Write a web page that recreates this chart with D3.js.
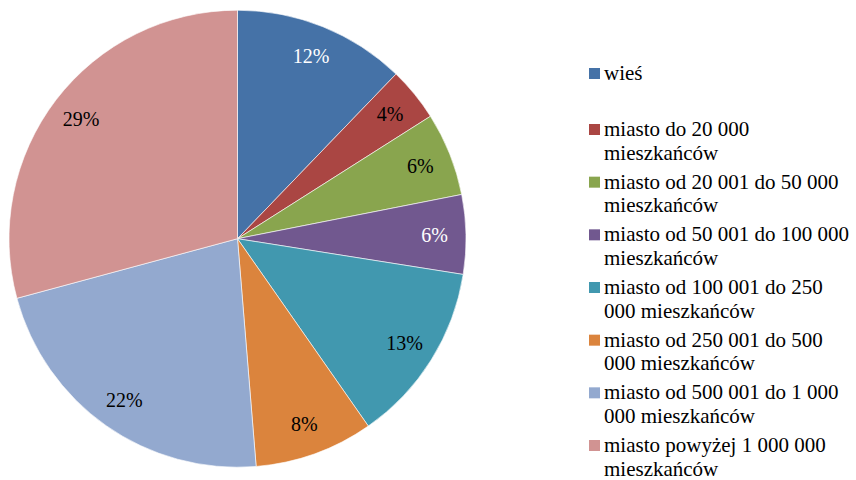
<!DOCTYPE html>
<html><head><meta charset="utf-8">
<script src="https://cdn.jsdelivr.net/npm/d3@7"></script>
<style>body{margin:0;background:#fff}svg{display:block}</style>
</head><body>
<svg id="c" width="856" height="480" style="font-family:'Liberation Serif'"><style>text{font-family:'Liberation Serif'}</style></svg>
<script>
const categories = [
  ["wieś"],
  ["miasto do 20 000", "mieszkańców"],
  ["miasto od 20 001 do 50 000", "mieszkańców"],
  ["miasto od 50 001 do 100 000", "mieszkańców"],
  ["miasto od 100 001 do 250", "000 mieszkańców"],
  ["miasto od 250 001 do 500", "000 mieszkańców"],
  ["miasto od 500 001 do 1 000", "000 mieszkańców"],
  ["miasto powyżej 1 000 000", "mieszkańców"]
];
const values = [12.2, 3.8, 5.9, 5.6, 12.8, 8.4, 22.1, 29.2];
const colors = ["#4572A7", "#AA4643", "#89A54E", "#71588F", "#4198AF", "#DB843D", "#93A9CF", "#D19392"];
const labelColors = ["#fff", "#000", "#000", "#fff", "#000", "#000", "#000", "#000"];

const svg = d3.select("#c");
const cx = 237.5, cy = 238.7, r = 228.5;
const total = d3.sum(values);
const pie = d3.pie().sort(null).value(d => d);
const arcs = pie(values);
const arc = d3.arc().innerRadius(0).outerRadius(r);
const labelArc = d3.arc().innerRadius(197).outerRadius(197);

const g = svg.append("g").attr("transform", `translate(${cx},${cy})`);
g.selectAll("path").data(arcs).join("path")
  .attr("d", arc)
  .attr("fill", (d, i) => colors[i])
  .attr("stroke", "#fff").attr("stroke-width", 0.6);

g.selectAll("text").data(arcs).join("text")
  .attr("x", d => labelArc.centroid(d)[0])
  .attr("y", d => labelArc.centroid(d)[1] + 7)
  .attr("text-anchor", "middle")
  .attr("font-size", 20)
  .attr("fill", (d, i) => labelColors[i])
  .text(d => Math.round(d.data / total * 100) + "%");

// legend
const legendY = d3.scaleLinear().domain([1, 7]).range([136, 452]);
const lg = svg.append("g");
categories.forEach((lines, i) => {
  const y0 = i === 0 ? 80 : legendY(i);
  lg.append("rect").attr("x", 589).attr("y", y0 - 12).attr("width", 11).attr("height", 11).attr("fill", colors[i]);
  lines.forEach((ln, j) => {
    lg.append("text")
      .attr("x", 604).attr("y", y0 + j * 23.5)
      .attr("font-size", 21).attr("fill", "#000")
      .text(ln);
  });
});
</script>
</body></html>
